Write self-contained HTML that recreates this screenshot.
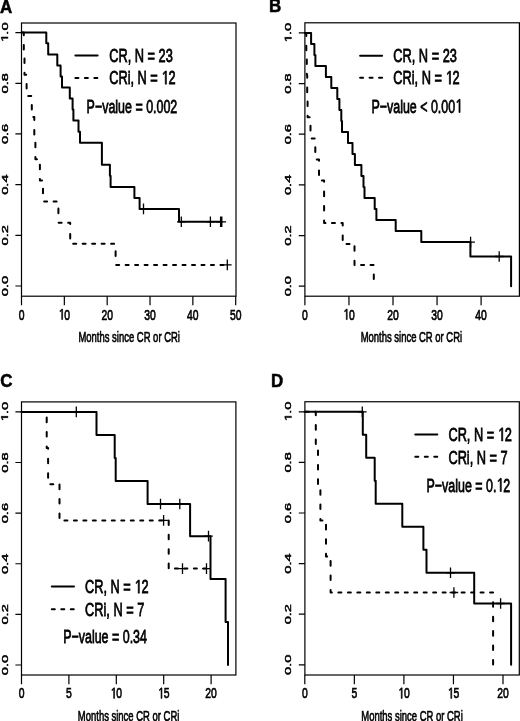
<!DOCTYPE html>
<html><head><meta charset="utf-8"><title>Kaplan-Meier curves</title>
<style>
html,body{margin:0;padding:0;background:#fff;}
body{width:520px;height:721px;overflow:hidden;}
svg{display:block;will-change:transform;}
text{font-family:"Liberation Sans", sans-serif;fill:#000;stroke:#000;font-kerning:none;}
.h{fill:none;stroke:none;}
</style></head>
<body>
<svg width="520" height="721" viewBox="0 0 520 721">
<rect width="520" height="721" fill="#fff"/>
<rect x="21.50" y="23.00" width="214.50" height="273.20" fill="none" stroke="#000" stroke-width="1.20"/>
<path d="M21.50 296.20 V305.20 M64.34 296.20 V305.20 M107.18 296.20 V305.20 M150.02 296.20 V305.20 M192.86 296.20 V305.20 M235.70 296.20 V305.20 M15.40 286.00 H21.50 M15.40 235.32 H21.50 M15.40 184.64 H21.50 M15.40 133.96 H21.50 M15.40 83.28 H21.50 M15.40 32.60 H21.50" stroke="#000" stroke-width="1.20" fill="none"/>
<text transform="translate(21.50 319.60) scale(0.677 1)" font-size="15.30" text-anchor="middle" font-weight="normal" stroke-width="0.70">0</text>
<text transform="translate(64.34 319.60) scale(0.677 1)" font-size="15.30" text-anchor="middle" font-weight="normal" stroke-width="0.70"><tspan class="h">1</tspan>0</text><path transform="translate(64.34 319.60) scale(0.677 1) translate(-8.509 0) scale(0.00747 -0.00747)" d="M615 0L615 1237L297 1010L297 1180L630 1409L796 1409L796 0Z" fill="#000" stroke="#000" stroke-width="93.70"/>
<text transform="translate(107.18 319.60) scale(0.677 1)" font-size="15.30" text-anchor="middle" font-weight="normal" stroke-width="0.70">20</text>
<text transform="translate(150.02 319.60) scale(0.677 1)" font-size="15.30" text-anchor="middle" font-weight="normal" stroke-width="0.70">30</text>
<text transform="translate(192.86 319.60) scale(0.677 1)" font-size="15.30" text-anchor="middle" font-weight="normal" stroke-width="0.70">40</text>
<text transform="translate(235.70 319.60) scale(0.677 1)" font-size="15.30" text-anchor="middle" font-weight="normal" stroke-width="0.70">50</text>
<text transform="translate(7.90 286.00) scale(0.655 1) rotate(-90)" font-size="14.60" text-anchor="middle" font-weight="normal" stroke-width="0.70">0.0</text>
<text transform="translate(7.90 235.32) scale(0.655 1) rotate(-90)" font-size="14.60" text-anchor="middle" font-weight="normal" stroke-width="0.70">0.2</text>
<text transform="translate(7.90 184.64) scale(0.655 1) rotate(-90)" font-size="14.60" text-anchor="middle" font-weight="normal" stroke-width="0.70">0.4</text>
<text transform="translate(7.90 133.96) scale(0.655 1) rotate(-90)" font-size="14.60" text-anchor="middle" font-weight="normal" stroke-width="0.70">0.6</text>
<text transform="translate(7.90 83.28) scale(0.655 1) rotate(-90)" font-size="14.60" text-anchor="middle" font-weight="normal" stroke-width="0.70">0.8</text>
<text transform="translate(7.90 32.60) scale(0.655 1) rotate(-90)" font-size="14.60" text-anchor="middle" font-weight="normal" stroke-width="0.70"><tspan class="h">1</tspan>.0</text><path transform="translate(7.90 32.60) scale(0.655 1) rotate(-90) translate(-10.148 0) scale(0.00713 -0.00713)" d="M615 0L615 1237L297 1010L297 1180L630 1409L796 1409L796 0Z" fill="#000" stroke="#000" stroke-width="98.19"/>
<text transform="translate(129.20 342.00) scale(0.653 1)" font-size="14.50" text-anchor="middle" font-weight="normal" stroke-width="0.65">Months since CR or CRi</text>
<path d="M21.50 32.60 H46.30 V43.30 H48.20 V54.40 H57.30 V65.40 H60.60 V76.40 H62.00 V87.40 H69.80 V98.40 H72.60 V109.40 H73.40 V120.40 H78.50 V131.80 H80.00 V142.80 H101.90 V164.80 H109.90 V175.80 H110.60 V186.90 H134.40 V197.90 H139.60 V208.90 H179.00 V221.80 H221.60" stroke="#000" stroke-width="2.00" fill="none" stroke-linejoin="round" stroke-linecap="round"/>
<path d="M22.52 32.60 L23.80 32.60 L23.80 35.21 M23.80 45.06 L23.80 49.62 M24.50 58.41 L24.50 62.97 M24.50 72.82 L24.50 74.80 L26.20 74.80 M26.60 84.04 L26.60 88.60 M28.24 95.95 L31.24 95.95 M31.80 104.95 L31.80 109.51 M33.29 117.10 L34.30 117.10 L34.30 120.12 M34.30 129.97 L34.30 134.53 M35.40 142.71 L35.40 147.27 M35.40 157.12 L35.40 159.30 L36.96 159.30 M39.90 164.69 L39.90 169.25 M39.90 179.10 L39.90 180.40 L42.04 180.40 M43.00 188.80 L43.00 193.36 M44.12 201.50 L47.12 201.50 M53.60 201.50 L56.60 201.50 M58.40 208.62 L58.40 213.18 M58.65 222.65 L61.65 222.65 M68.13 222.65 L70.20 222.65 L70.20 224.06 M70.20 233.91 L70.20 238.47 M73.17 243.80 L76.17 243.80 M82.65 243.80 L85.65 243.80 M92.13 243.80 L95.13 243.80 M101.61 243.80 L104.61 243.80 M111.09 243.80 L114.09 243.80 M115.60 251.36 L115.60 255.92 M116.17 264.90 L119.17 264.90 M125.65 264.90 L128.65 264.90 M135.13 264.90 L138.13 264.90 M144.61 264.90 L147.61 264.90 M154.09 264.90 L157.09 264.90 M163.57 264.90 L166.57 264.90 M173.05 264.90 L176.05 264.90 M182.53 264.90 L185.53 264.90 M192.01 264.90 L195.01 264.90 M201.49 264.90 L204.49 264.90 M210.97 264.90 L213.97 264.90 M220.45 264.90 L223.45 264.90" stroke="#000" stroke-width="2.00" fill="none" stroke-linejoin="round" stroke-linecap="round"/>
<path d="M139.20 208.90 H147.80 M143.50 203.60 V214.20 M177.00 221.80 H185.60 M181.30 216.50 V227.10 M206.10 221.80 H214.70 M210.40 216.50 V227.10 M216.30 221.80 H224.90 M220.60 216.50 V227.10 M217.50 221.80 H226.10 M221.80 216.50 V227.10 M223.00 264.90 H231.60 M227.30 259.60 V270.20" stroke="#000" stroke-width="1.30" fill="none"/>
<path d="M75.40 55.60 H97.60" stroke="#000" stroke-width="2.00" stroke-linecap="round"/>
<path d="M75.40 77.90 L78.40 77.90 M84.88 77.90 L87.88 77.90 M94.36 77.90 L97.36 77.90" stroke="#000" stroke-width="2.00" fill="none" stroke-linecap="round"/>
<text transform="translate(109.20 62.30) scale(0.666 1)" font-size="19.20" text-anchor="start" font-weight="normal" stroke-width="0.80">CR, N = 23</text>
<text transform="translate(109.20 84.20) scale(0.666 1)" font-size="19.20" text-anchor="start" font-weight="normal" stroke-width="0.80">CRi, N = <tspan class="h">1</tspan>2</text><path transform="translate(109.20 84.20) scale(0.666 1) translate(78.412 0) scale(0.00937 -0.00937)" d="M615 0L615 1237L297 1010L297 1180L630 1409L796 1409L796 0Z" fill="#000" stroke="#000" stroke-width="85.33"/>
<text transform="translate(86.60 112.50) scale(0.649 1)" font-size="19.20" text-anchor="start" font-weight="normal" stroke-width="0.80">P−value = 0.002</text>
<text transform="translate(0.10 12.80) scale(0.910 1)" font-size="18.60" text-anchor="start" font-weight="bold" stroke-width="0.55">A</text>
<rect x="304.90" y="22.80" width="214.50" height="273.40" fill="none" stroke="#000" stroke-width="1.20"/>
<path d="M304.90 296.20 V305.20 M348.95 296.20 V305.20 M393.00 296.20 V305.20 M437.05 296.20 V305.20 M481.10 296.20 V305.20 M298.80 286.20 H304.90 M298.80 235.54 H304.90 M298.80 184.88 H304.90 M298.80 134.22 H304.90 M298.80 83.56 H304.90 M298.80 32.90 H304.90" stroke="#000" stroke-width="1.20" fill="none"/>
<text transform="translate(304.90 319.60) scale(0.677 1)" font-size="15.30" text-anchor="middle" font-weight="normal" stroke-width="0.70">0</text>
<text transform="translate(348.95 319.60) scale(0.677 1)" font-size="15.30" text-anchor="middle" font-weight="normal" stroke-width="0.70"><tspan class="h">1</tspan>0</text><path transform="translate(348.95 319.60) scale(0.677 1) translate(-8.509 0) scale(0.00747 -0.00747)" d="M615 0L615 1237L297 1010L297 1180L630 1409L796 1409L796 0Z" fill="#000" stroke="#000" stroke-width="93.70"/>
<text transform="translate(393.00 319.60) scale(0.677 1)" font-size="15.30" text-anchor="middle" font-weight="normal" stroke-width="0.70">20</text>
<text transform="translate(437.05 319.60) scale(0.677 1)" font-size="15.30" text-anchor="middle" font-weight="normal" stroke-width="0.70">30</text>
<text transform="translate(481.10 319.60) scale(0.677 1)" font-size="15.30" text-anchor="middle" font-weight="normal" stroke-width="0.70">40</text>
<text transform="translate(291.40 286.20) scale(0.655 1) rotate(-90)" font-size="14.60" text-anchor="middle" font-weight="normal" stroke-width="0.70">0.0</text>
<text transform="translate(291.40 235.54) scale(0.655 1) rotate(-90)" font-size="14.60" text-anchor="middle" font-weight="normal" stroke-width="0.70">0.2</text>
<text transform="translate(291.40 184.88) scale(0.655 1) rotate(-90)" font-size="14.60" text-anchor="middle" font-weight="normal" stroke-width="0.70">0.4</text>
<text transform="translate(291.40 134.22) scale(0.655 1) rotate(-90)" font-size="14.60" text-anchor="middle" font-weight="normal" stroke-width="0.70">0.6</text>
<text transform="translate(291.40 83.56) scale(0.655 1) rotate(-90)" font-size="14.60" text-anchor="middle" font-weight="normal" stroke-width="0.70">0.8</text>
<text transform="translate(291.40 32.90) scale(0.655 1) rotate(-90)" font-size="14.60" text-anchor="middle" font-weight="normal" stroke-width="0.70"><tspan class="h">1</tspan>.0</text><path transform="translate(291.40 32.90) scale(0.655 1) rotate(-90) translate(-10.148 0) scale(0.00713 -0.00713)" d="M615 0L615 1237L297 1010L297 1180L630 1409L796 1409L796 0Z" fill="#000" stroke="#000" stroke-width="98.19"/>
<text transform="translate(411.40 342.00) scale(0.653 1)" font-size="14.50" text-anchor="middle" font-weight="normal" stroke-width="0.65">Months since CR or CRi</text>
<path d="M304.90 32.90 H311.10 V43.90 H314.40 V54.95 H315.40 V65.95 H325.90 V77.00 H331.30 V88.00 H337.30 V99.00 H339.40 V110.00 H341.30 V121.00 H342.00 V132.00 H348.00 V143.00 H352.50 V154.05 H354.90 V165.05 H361.40 V176.10 H363.50 V187.10 H364.50 V198.10 H374.70 V209.10 H376.40 V220.10 H395.70 V231.10 H421.30 V242.10 H470.40 V256.50 H511.10 V286.20" stroke="#000" stroke-width="2.00" fill="none" stroke-linejoin="round" stroke-linecap="round"/>
<path d="M305.27 32.90 L306.30 32.90 L306.30 35.89 M306.30 45.74 L306.30 50.30 M306.80 59.39 L306.80 63.95 M306.80 73.80 L306.80 75.10 L307.20 75.10 L307.20 77.76 M307.20 87.60 L307.20 92.16 M307.60 101.41 L307.60 105.97 M307.60 115.82 L307.60 117.30 L309.62 117.30 M310.50 125.82 L310.50 130.38 M311.67 138.45 L314.67 138.45 M315.30 147.34 L315.30 151.90 M316.75 159.55 L319.00 159.55 L319.00 160.69 M319.00 170.54 L319.00 175.10 M321.86 180.60 L324.10 180.60 L324.10 181.75 M324.10 191.60 L324.10 196.16 M324.10 206.01 L324.10 210.57 M324.10 220.42 L324.10 222.90 L325.47 222.90 M331.95 222.90 L334.95 222.90 M341.43 222.90 L342.70 222.90 L342.70 225.53 M342.70 235.38 L342.70 239.94 M346.51 244.00 L349.51 244.00 M354.50 246.26 L354.50 250.82 M354.50 260.67 L354.50 265.10 L354.59 265.10 M361.07 265.10 L364.07 265.10 M370.55 265.10 L373.55 265.10 M373.80 274.56 L373.80 279.12" stroke="#000" stroke-width="2.00" fill="none" stroke-linejoin="round" stroke-linecap="round"/>
<path d="M466.30 242.10 H474.90 M470.60 236.80 V247.40 M494.90 256.50 H503.50 M499.20 251.20 V261.80" stroke="#000" stroke-width="1.30" fill="none"/>
<path d="M360.10 55.80 H382.10" stroke="#000" stroke-width="2.00" stroke-linecap="round"/>
<path d="M360.10 77.80 L363.10 77.80 M369.58 77.80 L372.58 77.80 M379.06 77.80 L382.06 77.80" stroke="#000" stroke-width="2.00" fill="none" stroke-linecap="round"/>
<text transform="translate(393.30 62.30) scale(0.666 1)" font-size="19.20" text-anchor="start" font-weight="normal" stroke-width="0.80">CR, N = 23</text>
<text transform="translate(393.30 84.20) scale(0.666 1)" font-size="19.20" text-anchor="start" font-weight="normal" stroke-width="0.80">CRi, N = <tspan class="h">1</tspan>2</text><path transform="translate(393.30 84.20) scale(0.666 1) translate(78.412 0) scale(0.00937 -0.00937)" d="M615 0L615 1237L297 1010L297 1180L630 1409L796 1409L796 0Z" fill="#000" stroke="#000" stroke-width="85.33"/>
<text transform="translate(371.40 112.50) scale(0.649 1)" font-size="19.20" text-anchor="start" font-weight="normal" stroke-width="0.80">P−value &lt; 0.00<tspan class="h">1</tspan></text><path transform="translate(371.40 112.50) scale(0.649 1) translate(129.169 0) scale(0.00937 -0.00937)" d="M615 0L615 1237L297 1010L297 1180L630 1409L796 1409L796 0Z" fill="#000" stroke="#000" stroke-width="85.33"/>
<text transform="translate(269.00 12.30) scale(0.910 1)" font-size="18.60" text-anchor="start" font-weight="bold" stroke-width="0.55">B</text>
<rect x="21.50" y="401.90" width="214.40" height="273.10" fill="none" stroke="#000" stroke-width="1.20"/>
<path d="M21.50 675.00 V684.20 M68.90 675.00 V684.20 M116.30 675.00 V684.20 M163.70 675.00 V684.20 M211.10 675.00 V684.20 M15.40 665.00 H21.50 M15.40 614.38 H21.50 M15.40 563.76 H21.50 M15.40 513.14 H21.50 M15.40 462.52 H21.50 M15.40 411.90 H21.50" stroke="#000" stroke-width="1.20" fill="none"/>
<text transform="translate(21.50 698.40) scale(0.677 1)" font-size="15.30" text-anchor="middle" font-weight="normal" stroke-width="0.70">0</text>
<text transform="translate(68.90 698.40) scale(0.677 1)" font-size="15.30" text-anchor="middle" font-weight="normal" stroke-width="0.70">5</text>
<text transform="translate(116.30 698.40) scale(0.677 1)" font-size="15.30" text-anchor="middle" font-weight="normal" stroke-width="0.70"><tspan class="h">1</tspan>0</text><path transform="translate(116.30 698.40) scale(0.677 1) translate(-8.509 0) scale(0.00747 -0.00747)" d="M615 0L615 1237L297 1010L297 1180L630 1409L796 1409L796 0Z" fill="#000" stroke="#000" stroke-width="93.70"/>
<text transform="translate(163.70 698.40) scale(0.677 1)" font-size="15.30" text-anchor="middle" font-weight="normal" stroke-width="0.70"><tspan class="h">1</tspan>5</text><path transform="translate(163.70 698.40) scale(0.677 1) translate(-8.509 0) scale(0.00747 -0.00747)" d="M615 0L615 1237L297 1010L297 1180L630 1409L796 1409L796 0Z" fill="#000" stroke="#000" stroke-width="93.70"/>
<text transform="translate(211.10 698.40) scale(0.677 1)" font-size="15.30" text-anchor="middle" font-weight="normal" stroke-width="0.70">20</text>
<text transform="translate(7.90 665.00) scale(0.655 1) rotate(-90)" font-size="14.60" text-anchor="middle" font-weight="normal" stroke-width="0.70">0.0</text>
<text transform="translate(7.90 614.38) scale(0.655 1) rotate(-90)" font-size="14.60" text-anchor="middle" font-weight="normal" stroke-width="0.70">0.2</text>
<text transform="translate(7.90 563.76) scale(0.655 1) rotate(-90)" font-size="14.60" text-anchor="middle" font-weight="normal" stroke-width="0.70">0.4</text>
<text transform="translate(7.90 513.14) scale(0.655 1) rotate(-90)" font-size="14.60" text-anchor="middle" font-weight="normal" stroke-width="0.70">0.6</text>
<text transform="translate(7.90 462.52) scale(0.655 1) rotate(-90)" font-size="14.60" text-anchor="middle" font-weight="normal" stroke-width="0.70">0.8</text>
<text transform="translate(7.90 411.90) scale(0.655 1) rotate(-90)" font-size="14.60" text-anchor="middle" font-weight="normal" stroke-width="0.70"><tspan class="h">1</tspan>.0</text><path transform="translate(7.90 411.90) scale(0.655 1) rotate(-90) translate(-10.148 0) scale(0.00713 -0.00713)" d="M615 0L615 1237L297 1010L297 1180L630 1409L796 1409L796 0Z" fill="#000" stroke="#000" stroke-width="98.19"/>
<text transform="translate(128.60 720.80) scale(0.653 1)" font-size="14.50" text-anchor="middle" font-weight="normal" stroke-width="0.65">Months since CR or CRi</text>
<path d="M21.50 411.90 H96.50 V434.90 H114.70 V457.90 H115.70 V480.95 H147.60 V503.95 H190.10 V536.15 H210.50 V579.10 H225.60 V622.05 H228.00 V665.00" stroke="#000" stroke-width="2.00" fill="none" stroke-linejoin="round" stroke-linecap="round"/>
<path d="M22.02 411.90 L25.02 411.90 M31.50 411.90 L34.50 411.90 M40.98 411.90 L43.98 411.90 M46.70 417.62 L46.70 422.18 M46.70 432.02 L46.70 436.58 M46.70 446.43 L46.70 448.05 L48.10 448.05 L48.10 448.87 M48.10 458.72 L48.10 463.28 M48.10 473.13 L48.10 477.69 M50.29 484.20 L53.29 484.20 M59.50 484.62 L59.50 489.18 M59.50 499.03 L59.50 503.59 M59.50 513.44 L59.50 518.00 M64.40 520.40 L67.40 520.40 M73.88 520.40 L76.88 520.40 M83.36 520.40 L86.36 520.40 M92.84 520.40 L95.84 520.40 M102.32 520.40 L105.32 520.40 M111.80 520.40 L114.80 520.40 M121.28 520.40 L124.28 520.40 M130.76 520.40 L133.76 520.40 M140.24 520.40 L143.24 520.40 M149.72 520.40 L152.72 520.40 M159.20 520.40 L162.20 520.40 M168.68 520.40 L168.70 520.40 L168.70 524.93 M168.70 534.78 L168.70 539.34 M168.70 549.19 L168.70 553.75 M168.70 563.60 L168.70 568.16 M174.89 568.60 L177.89 568.60 M184.37 568.60 L187.37 568.60 M193.85 568.60 L196.85 568.60 M203.33 568.60 L206.33 568.60" stroke="#000" stroke-width="2.00" fill="none" stroke-linejoin="round" stroke-linecap="round"/>
<path d="M72.00 411.90 H80.60 M76.30 406.60 V417.20 M156.20 503.95 H164.80 M160.50 498.65 V509.25 M175.50 503.95 H184.10 M179.80 498.65 V509.25 M204.20 536.15 H212.80 M208.50 530.85 V541.45 M159.30 520.40 H167.90 M163.60 515.10 V525.70 M178.20 568.60 H186.80 M182.50 563.30 V573.90 M202.20 568.60 H210.80 M206.50 563.30 V573.90" stroke="#000" stroke-width="1.30" fill="none"/>
<path d="M51.80 586.40 H74.00" stroke="#000" stroke-width="2.00" stroke-linecap="round"/>
<path d="M51.80 609.20 L54.80 609.20 M61.28 609.20 L64.28 609.20 M70.76 609.20 L73.76 609.20" stroke="#000" stroke-width="2.00" fill="none" stroke-linecap="round"/>
<text transform="translate(85.00 593.20) scale(0.666 1)" font-size="19.20" text-anchor="start" font-weight="normal" stroke-width="0.80">CR, N = <tspan class="h">1</tspan>2</text><path transform="translate(85.00 593.20) scale(0.666 1) translate(74.147 0) scale(0.00937 -0.00937)" d="M615 0L615 1237L297 1010L297 1180L630 1409L796 1409L796 0Z" fill="#000" stroke="#000" stroke-width="85.33"/>
<text transform="translate(85.00 615.70) scale(0.666 1)" font-size="19.20" text-anchor="start" font-weight="normal" stroke-width="0.80">CRi, N = 7</text>
<text transform="translate(63.20 643.40) scale(0.649 1)" font-size="19.20" text-anchor="start" font-weight="normal" stroke-width="0.80">P−value = 0.34</text>
<text transform="translate(0.20 386.60) scale(0.910 1)" font-size="18.60" text-anchor="start" font-weight="bold" stroke-width="0.55">C</text>
<rect x="304.90" y="401.75" width="214.40" height="273.25" fill="none" stroke="#000" stroke-width="1.20"/>
<path d="M304.80 675.00 V684.20 M354.35 675.00 V684.20 M403.90 675.00 V684.20 M453.45 675.00 V684.20 M503.00 675.00 V684.20 M298.80 664.80 H304.90 M298.80 614.20 H304.90 M298.80 563.60 H304.90 M298.80 513.00 H304.90 M298.80 462.40 H304.90 M298.80 411.80 H304.90" stroke="#000" stroke-width="1.20" fill="none"/>
<text transform="translate(304.80 698.40) scale(0.677 1)" font-size="15.30" text-anchor="middle" font-weight="normal" stroke-width="0.70">0</text>
<text transform="translate(354.35 698.40) scale(0.677 1)" font-size="15.30" text-anchor="middle" font-weight="normal" stroke-width="0.70">5</text>
<text transform="translate(403.90 698.40) scale(0.677 1)" font-size="15.30" text-anchor="middle" font-weight="normal" stroke-width="0.70"><tspan class="h">1</tspan>0</text><path transform="translate(403.90 698.40) scale(0.677 1) translate(-8.509 0) scale(0.00747 -0.00747)" d="M615 0L615 1237L297 1010L297 1180L630 1409L796 1409L796 0Z" fill="#000" stroke="#000" stroke-width="93.70"/>
<text transform="translate(453.45 698.40) scale(0.677 1)" font-size="15.30" text-anchor="middle" font-weight="normal" stroke-width="0.70"><tspan class="h">1</tspan>5</text><path transform="translate(453.45 698.40) scale(0.677 1) translate(-8.509 0) scale(0.00747 -0.00747)" d="M615 0L615 1237L297 1010L297 1180L630 1409L796 1409L796 0Z" fill="#000" stroke="#000" stroke-width="93.70"/>
<text transform="translate(503.00 698.40) scale(0.677 1)" font-size="15.30" text-anchor="middle" font-weight="normal" stroke-width="0.70">20</text>
<text transform="translate(291.40 664.80) scale(0.655 1) rotate(-90)" font-size="14.60" text-anchor="middle" font-weight="normal" stroke-width="0.70">0.0</text>
<text transform="translate(291.40 614.20) scale(0.655 1) rotate(-90)" font-size="14.60" text-anchor="middle" font-weight="normal" stroke-width="0.70">0.2</text>
<text transform="translate(291.40 563.60) scale(0.655 1) rotate(-90)" font-size="14.60" text-anchor="middle" font-weight="normal" stroke-width="0.70">0.4</text>
<text transform="translate(291.40 513.00) scale(0.655 1) rotate(-90)" font-size="14.60" text-anchor="middle" font-weight="normal" stroke-width="0.70">0.6</text>
<text transform="translate(291.40 462.40) scale(0.655 1) rotate(-90)" font-size="14.60" text-anchor="middle" font-weight="normal" stroke-width="0.70">0.8</text>
<text transform="translate(291.40 411.80) scale(0.655 1) rotate(-90)" font-size="14.60" text-anchor="middle" font-weight="normal" stroke-width="0.70"><tspan class="h">1</tspan>.0</text><path transform="translate(291.40 411.80) scale(0.655 1) rotate(-90) translate(-10.148 0) scale(0.00713 -0.00713)" d="M615 0L615 1237L297 1010L297 1180L630 1409L796 1409L796 0Z" fill="#000" stroke="#000" stroke-width="98.19"/>
<text transform="translate(412.00 720.80) scale(0.653 1)" font-size="14.50" text-anchor="middle" font-weight="normal" stroke-width="0.65">Months since CR or CRi</text>
<path d="M304.60 411.80 H362.80 V434.80 H366.20 V457.80 H374.70 V480.80 H375.70 V503.80 H402.30 V526.80 H423.40 V549.80 H426.50 V572.80 H474.20 V603.50 H511.10 V664.80" stroke="#000" stroke-width="2.00" fill="none" stroke-linejoin="round" stroke-linecap="round"/>
<path d="M305.57 411.80 L308.57 411.80 M315.05 411.80 L315.80 411.80 L315.80 415.22 M315.80 425.07 L315.80 429.63 M315.80 439.48 L315.80 444.04 M318.00 450.54 L318.00 455.10 M318.00 464.95 L318.00 469.51 M318.00 479.36 L318.00 483.92 M320.40 490.13 L320.40 494.69 M320.40 504.54 L320.40 509.10 M320.40 518.94 L320.40 520.40 L322.44 520.40 M326.00 524.84 L326.00 529.40 M326.00 539.25 L326.00 543.81 M326.00 553.66 L326.00 556.40 L327.20 556.40 M330.60 561.08 L330.60 565.64 M330.60 575.49 L330.60 580.05 M330.60 589.90 L330.60 592.50 L331.89 592.50 M338.37 592.50 L341.37 592.50 M347.85 592.50 L350.85 592.50 M357.33 592.50 L360.33 592.50 M366.81 592.50 L369.81 592.50 M376.29 592.50 L379.29 592.50 M385.77 592.50 L388.77 592.50 M395.25 592.50 L398.25 592.50 M404.73 592.50 L407.73 592.50 M414.21 592.50 L417.21 592.50 M423.69 592.50 L426.69 592.50 M433.17 592.50 L436.17 592.50 M442.65 592.50 L445.65 592.50 M452.13 592.50 L455.13 592.50 M461.61 592.50 L464.61 592.50 M471.09 592.50 L474.09 592.50 M480.57 592.50 L483.57 592.50 M490.05 592.50 L493.05 592.50 M493.10 602.27 L493.10 606.83 M493.10 616.68 L493.10 621.24 M493.10 631.09 L493.10 635.65 M493.10 645.50 L493.10 650.06 M493.10 659.91 L493.10 664.47" stroke="#000" stroke-width="2.00" fill="none" stroke-linejoin="round" stroke-linecap="round"/>
<path d="M358.00 411.80 H366.60 M362.30 406.50 V417.10 M446.20 572.80 H454.80 M450.50 567.50 V578.10 M496.30 603.50 H504.90 M500.60 598.20 V608.80 M449.60 592.50 H458.20 M453.90 587.20 V597.80" stroke="#000" stroke-width="1.30" fill="none"/>
<path d="M415.30 434.40 H437.30" stroke="#000" stroke-width="2.00" stroke-linecap="round"/>
<path d="M415.30 456.80 L418.30 456.80 M424.78 456.80 L427.78 456.80 M434.26 456.80 L437.26 456.80" stroke="#000" stroke-width="2.00" fill="none" stroke-linecap="round"/>
<text transform="translate(448.40 441.00) scale(0.666 1)" font-size="19.20" text-anchor="start" font-weight="normal" stroke-width="0.80">CR, N = <tspan class="h">1</tspan>2</text><path transform="translate(448.40 441.00) scale(0.666 1) translate(74.147 0) scale(0.00937 -0.00937)" d="M615 0L615 1237L297 1010L297 1180L630 1409L796 1409L796 0Z" fill="#000" stroke="#000" stroke-width="85.33"/>
<text transform="translate(448.40 463.80) scale(0.666 1)" font-size="19.20" text-anchor="start" font-weight="normal" stroke-width="0.80">CRi, N = 7</text>
<text transform="translate(426.50 491.50) scale(0.649 1)" font-size="19.20" text-anchor="start" font-weight="normal" stroke-width="0.80">P−value = 0.<tspan class="h">1</tspan>2</text><path transform="translate(426.50 491.50) scale(0.649 1) translate(107.812 0) scale(0.00937 -0.00937)" d="M615 0L615 1237L297 1010L297 1180L630 1409L796 1409L796 0Z" fill="#000" stroke="#000" stroke-width="85.33"/>
<text transform="translate(271.00 386.60) scale(0.910 1)" font-size="18.60" text-anchor="start" font-weight="bold" stroke-width="0.55">D</text>
</svg>
</body></html>
